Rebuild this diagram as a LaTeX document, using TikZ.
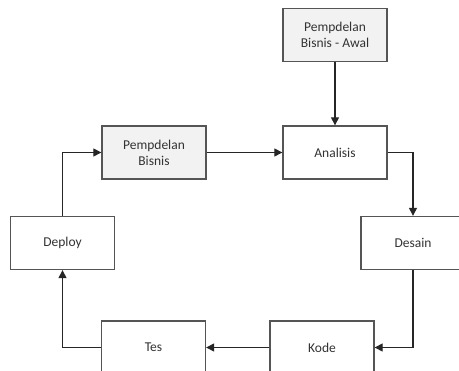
\documentclass[tikz,border=0pt]{standalone}
\usepackage{fontspec}
\setmainfont{Carlito}
\usetikzlibrary{arrows.meta}
\definecolor{edge}{HTML}{555555}
\definecolor{txt}{HTML}{333333}
\definecolor{shade}{HTML}{F2F2F2}
\begin{document}
\begin{tikzpicture}[x=1pt,y=-1pt,
  box/.style={draw=edge,line width=1.3pt,fill=white,minimum width=104pt,minimum height=53pt,inner sep=0pt,align=center,font=\fontsize{13.5}{16}\selectfont,text=txt},
  gbox/.style={box,fill=shade},
  conn/.style={draw=black!85,line width=1.1pt,-{Triangle[length=8pt,width=8pt]}}]
\clip (0,0) rectangle (459,371);
\useasboundingbox (0,0) rectangle (459,371);
\node[gbox] (awal) at (335,35) {Pempdelan\\Bisnis - Awal};
\node[gbox] (bisnis) at (154,152.5) {Pempdelan\\Bisnis};
\node[box] (analisis) at (335,152.5) {Analisis};
\node[box] (desain) at (413,243) {Desain};
\node[box] (deploy) at (62.5,243) {Deploy};
\node[box] (tes) at (153.5,347.5) {Tes};
\node[box] (kode) at (322,347.5) {Kode};
\draw[conn] (awal.south) -- (analisis.north);
\draw[conn] (bisnis.east) -- (analisis.west);
\draw[conn] (analisis.east) -| (desain.north);
\draw[conn] (desain.south) |- (kode.east);
\draw[conn] (kode.west) -- (tes.east);
\draw[conn] (tes.west) -| (deploy.south);
\draw[conn] (deploy.north) |- (bisnis.west);
\end{tikzpicture}
\end{document}
